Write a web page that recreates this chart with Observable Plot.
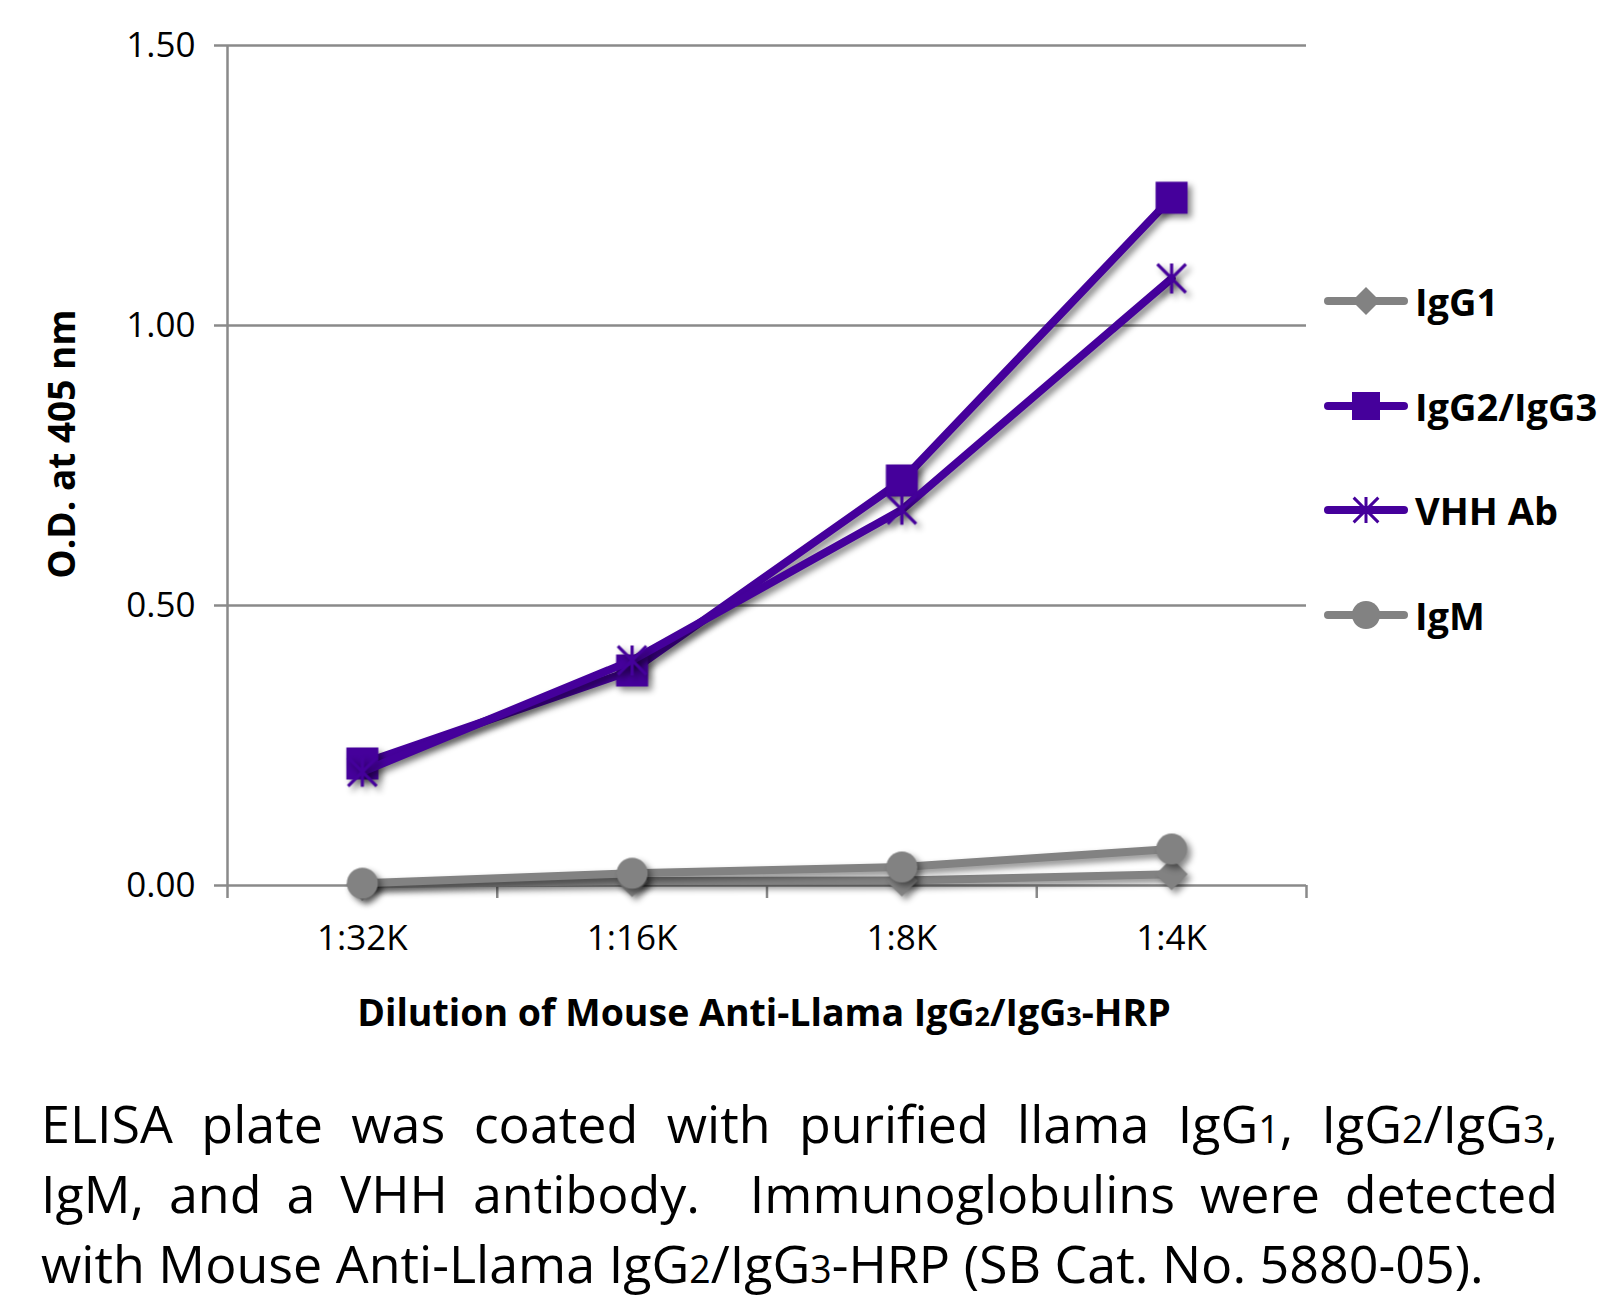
<!DOCTYPE html>
<html>
<head>
<meta charset="utf-8">
<script src="https://cdn.jsdelivr.net/npm/d3@7"></script>
<script src="https://cdn.jsdelivr.net/npm/@observablehq/plot@0.6"></script>
<style>
  body { margin: 0; background: #fff; }
  #wrap { position: relative; width: 1618px; height: 1306px; font-family: "Open Sans", sans-serif; color: #000; overflow: hidden; }
  #chart { position: absolute; left: 0; top: 0; }
  .ytitle { position: absolute; left: 60px; top: 444px; transform: translate(-50%, -50%) rotate(-90deg); font-weight: 700; font-size: 37px; white-space: nowrap; }
  .xtitle { position: absolute; left: 764px; top: 1011px; transform: translate(-50%, -50%); font-weight: 700; font-size: 37.5px; white-space: nowrap; }
  .legend { position: absolute; left: 1322px; top: 0; }
  .legend .item { position: absolute; left: 0; height: 40px; display: flex; align-items: center; white-space: nowrap; font-weight: 700; font-size: 38px; }
  .legend svg { margin-right: 5px; }
  .caption { position: absolute; left: 41px; top: 1088px; width: 1517px; font-size: 52px; }
  .caption div { height: 70px; line-height: 70px; white-space: nowrap; }
  .caption .j { text-align: justify; text-align-last: justify; white-space: normal; }
  .s { font-size: 0.72em; }
</style>
</head>
<body>
<div id="wrap">
  <div id="chart"></div>
</div>
<script>
// ---- data ----
const categories = ["1:32K", "1:16K", "1:8K", "1:4K"];
const seriesNames = ["IgG1", "IgG2/IgG3", "VHH Ab", "IgM"];
const igg1 = [0.002, 0.008, 0.009, 0.020];
const igg2igg3 = [0.218, 0.384, 0.723, 1.228];
const vhhAb = [0.203, 0.402, 0.671, 1.084];
const igm = [0.004, 0.022, 0.033, 0.065];
const yTicks = [0, 0.5, 1.0, 1.5];

const gray = "#828282";
const purple = "#45009b";

// custom symbols (size = pi r^2)
const rad = s => Math.sqrt(s / Math.PI);
const symDiamond = { draw(c, s) { const r = rad(s); c.moveTo(0, -r); c.lineTo(r, 0); c.lineTo(0, r); c.lineTo(-r, 0); c.closePath(); } };
const symSquare = { draw(c, s) { const r = rad(s); c.rect(-r, -r, 2 * r, 2 * r); } };
const symStar = { draw(c, s) { const r = rad(s); const d = r * 0.95;
  c.moveTo(0, -r); c.lineTo(0, r);
  c.moveTo(-d, -d); c.lineTo(d, d);
  c.moveTo(-d, d); c.lineTo(d, -d); } };
const symCircle = { draw(c, s) { const r = rad(s); c.moveTo(r, 0); c.arc(0, 0, r, 0, 2 * Math.PI); } };

const series = [
  { name: seriesNames[0], values: igg1, color: gray, symbol: symDiamond, r: 16, filled: true },
  { name: seriesNames[1], values: igg2igg3, color: purple, symbol: symSquare, r: 16, filled: true },
  { name: seriesNames[2], values: vhhAb, color: purple, symbol: symStar, r: 15, filled: false },
  { name: seriesNames[3], values: igm, color: gray, symbol: symCircle, r: 15.5, filled: true }
];

const rows = s => categories.map((c, i) => ({ x: i + 0.5, y: s.values[i], cat: c }));

const marks = [
  Plot.gridY(yTicks, { stroke: "#8a8a8a", strokeOpacity: 1, strokeWidth: 2.5 }),
  Plot.ruleX([0], { stroke: "#8a8a8a", strokeWidth: 2.5 }),
  Plot.axisY({ ticks: yTicks, tickSize: 13, tickPadding: 19, tickFormat: d3.format(".2f"), stroke: "#8a8a8a", strokeWidth: 2.5, fill: "#000", fontSize: 35, label: null }),
  Plot.axisX({ ticks: d3.range(categories.length + 1), tickSize: 13, tickFormat: () => "", stroke: "#8a8a8a", strokeWidth: 2.5, label: null }),
  Plot.axisX({ ticks: categories.map((c, i) => i + 0.5), tickSize: 0, tickPadding: 40, tickFormat: d => categories[Math.round(d - 0.5)], fill: "#000", fontSize: 35, label: null })
];
for (const s of series) {
  const data = rows(s);
  marks.push(Plot.line(data, { x: "x", y: "y", stroke: s.color, strokeWidth: 8, strokeLinejoin: "round", strokeLinecap: "round" }));
  marks.push(Plot.dot(data, s.filled
    ? { x: "x", y: "y", symbol: s.symbol, r: s.r, fill: s.color, stroke: "none" }
    : { x: "x", y: "y", symbol: s.symbol, r: s.r, fill: "none", stroke: s.color, strokeWidth: 3.2 }));
}

const chart = Plot.plot({
  width: 1618,
  height: 970,
  marginLeft: 227,
  marginRight: 312,
  marginTop: 45,
  marginBottom: 85,
  style: { fontFamily: "'Open Sans', sans-serif", fontSize: "35px", color: "#000", background: "transparent" },
  x: { type: "linear", domain: [0, categories.length], axis: null },
  y: { domain: [0, 1.5], axis: null },
  marks
});
d3.select(chart).selectAll('g[aria-label="line"], g[aria-label="dot"]')
  .style("filter", "drop-shadow(4px 4px 3px rgba(0,0,0,0.45))");
document.getElementById("chart").appendChild(chart);

const wrap = document.getElementById("wrap");

// y title
const yt = document.createElement("div");
yt.className = "ytitle";
yt.textContent = "O.D. at 405 nm";
wrap.appendChild(yt);

// x title
const xt = document.createElement("div");
xt.className = "xtitle";
xt.innerHTML = 'Dilution of Mouse Anti-Llama IgG<span class="s">2</span>/IgG<span class="s">3</span>-HRP';
wrap.appendChild(xt);

// legend
const legendY = [301, 406, 510, 615];
const leg = document.createElement("div");
leg.className = "legend";
wrap.appendChild(leg);
series.forEach((s, i) => {
  const item = document.createElement("div");
  item.className = "item";
  item.style.top = (legendY[i] - 20) + "px";
  const sw = d3.create("svg").attr("width", 88).attr("height", 40);
  sw.append("line").attr("x1", 6).attr("x2", 82).attr("y1", 20).attr("y2", 20)
    .attr("stroke", s.color).attr("stroke-width", 8).attr("stroke-linecap", "round");
  const p = d3.path();
  const lr = s.symbol === symStar ? 13 : 14;
  s.symbol.draw(p, Math.PI * lr * lr);
  sw.append("path").attr("d", p.toString()).attr("transform", "translate(44,20)")
    .attr("fill", s.filled ? s.color : "none").attr("stroke", s.filled ? "none" : s.color).attr("stroke-width", 3);
  item.appendChild(sw.node());
  const lab = document.createElement("span");
  lab.textContent = s.name;
  item.appendChild(lab);
  leg.appendChild(item);
});

// caption
const cap = document.createElement("div");
cap.className = "caption";
cap.innerHTML =
  '<div class="j">ELISA plate was coated with purified llama IgG<span class="s">1</span>, IgG<span class="s">2</span>/IgG<span class="s">3</span>,</div>' +
  '<div class="j">IgM, and a VHH antibody.&nbsp; Immunoglobulins were detected</div>' +
  '<div>with Mouse Anti-Llama IgG<span class="s">2</span>/IgG<span class="s">3</span>-HRP (SB Cat. No. 5880-05).</div>';
wrap.appendChild(cap);
</script>
</body>
</html>
